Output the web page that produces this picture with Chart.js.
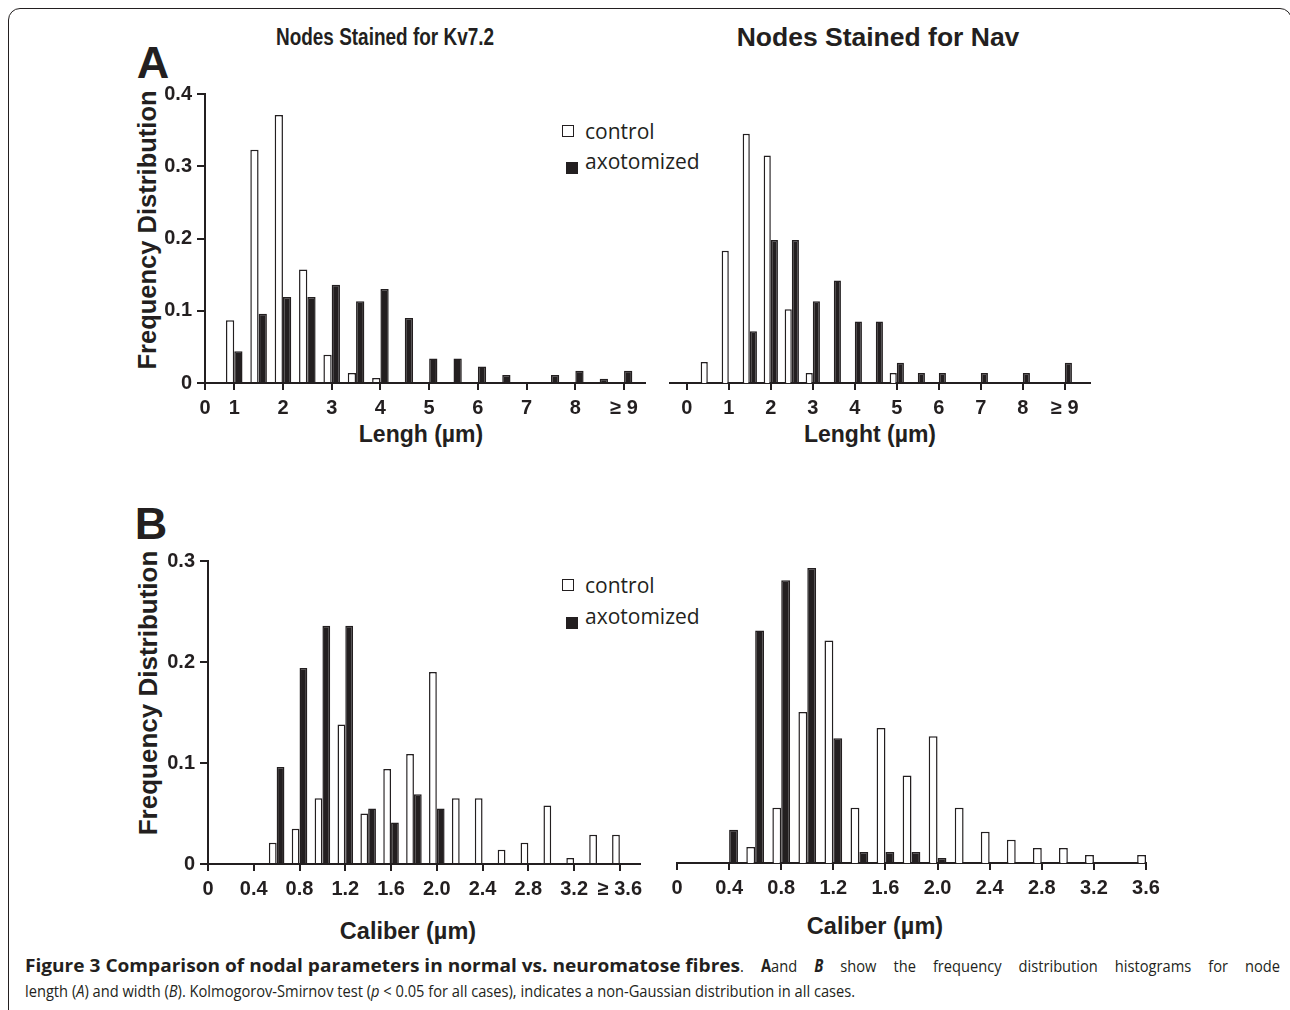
<!DOCTYPE html>
<html>
<head>
<meta charset="utf-8">
<script src="https://cdn.jsdelivr.net/npm/chart.js@4.4.1/dist/chart.umd.min.js"></script>
<style>
  body { margin: 0; background: #fff; width: 1290px; height: 1010px; overflow: hidden; position: relative;
         font-family: Arial, 'Liberation Sans', sans-serif; color: #231f20; }
  .frame { position: absolute; left: 8px; top: 8px; width: 1284px; height: 1100px; box-sizing: border-box;
           border: 1.5px solid #231f20; border-radius: 12px 12px 0 0; }
  .t { position: absolute; white-space: nowrap; font-weight: bold; transform: translate(-50%, -50%); line-height: 1; }
  .rot { transform: translate(-50%, -50%) rotate(-90deg); }
  canvas { position: absolute; }
  .leg { position: absolute; font-family: 'Open Sans', sans-serif; font-size: 21px; line-height: 1; white-space: nowrap; transform: translateY(-50%); }
  .sq { position: absolute; box-sizing: border-box; border: 1.3px solid #231f20; }
  .cap { position: absolute; left: 25px; font-family: 'Open Sans', sans-serif; font-size: 17px; line-height: 1;
         white-space: nowrap; transform-origin: left center; }
</style>
</head>
<body>
<div class="frame"></div>

<div class="t" style="left:385px; top:37px; font-size:24px; transform: translate(-50%,-50%) scaleX(0.79)">Nodes Stained for Kv7.2</div>
<div class="t" style="left:878px; top:37px; font-size:26.5px">Nodes Stained for Nav</div>
<div class="t" style="left:153px; top:62px; font-size:45px">A</div>
<div class="t" style="left:151px; top:523px; font-size:45px">B</div>
<div class="t rot" style="left:148px; top:230px; font-size:25.5px">Frequency Distribution</div>
<div class="t rot" style="left:148px; top:693px; font-size:26px">Frequency Distribution</div>
<div class="t" style="left:421px; top:434px; font-size:23px">Lengh (µm)</div>
<div class="t" style="left:870px; top:434px; font-size:23px">Lenght (µm)</div>
<div class="t" style="left:408px; top:932px; font-size:23.5px">Caliber (µm)</div>
<div class="t" style="left:875px; top:927px; font-size:23.5px">Caliber (µm)</div>

<div class="sq" style="left:562px; top:125px; width:12px; height:12px; background:#fff"></div>
<div class="leg" style="left:585px; top:131px">control</div>
<div class="sq" style="left:566px; top:162px; width:12px; height:12px; background:#231f20"></div>
<div class="leg" style="left:585px; top:161px">axotomized</div>
<div class="sq" style="left:562px; top:579px; width:12px; height:12px; background:#fff"></div>
<div class="leg" style="left:585px; top:585px">control</div>
<div class="sq" style="left:566px; top:617px; width:12px; height:12px; background:#231f20"></div>
<div class="leg" style="left:585px; top:616px">axotomized</div>

<div class="cap" id="cap1a" style="top:957px"><b>Figure 3 Comparison of nodal parameters in normal vs. neuromatose fibres</b></div>
<div class="cap" id="cap1b" style="top:957px">. <b>A</b>and <b><i>B</i></b> show the frequency distribution histograms for node</div>
<div class="cap" id="cap2" style="top:982px">length (<i>A</i>) and width (<i>B</i>). Kolmogorov-Smirnov test (<i>p</i> &lt; 0.05 for all cases), indicates a non-Gaussian distribution in all cases.</div>

<canvas id="lenKv"></canvas>
<canvas id="lenNav"></canvas>
<canvas id="calKv"></canvas>
<canvas id="calNav"></canvas>

<script>
// ---- Panel A: node length, 0.5 µm bins ----
const lenBinsKv = [1, 1.5, 2, 2.5, 3, 3.5, 4, 4.5, 5, 5.5, 6, 6.5, 7, 7.5, 8, 8.5, 9]
const kvLenControl = [0.087, 0.323, 0.371, 0.157, 0.039, 0.014, 0.007, 0, 0, 0, 0, 0, 0, 0, 0, 0, 0]
const kvLenAxotomized = [0.044, 0.096, 0.119, 0.119, 0.136, 0.113, 0.130, 0.090, 0.034, 0.034, 0.023, 0.011, 0, 0.011, 0.017, 0.006, 0.017]

const lenBinsNav = [0.5, 1, 1.5, 2, 2.5, 3, 3.5, 4, 4.5, 5, 5.5, 6, 6.5, 7, 7.5, 8, 8.5, 9]
const navLenControl = [0.029, 0.183, 0.345, 0.315, 0.102, 0.014, 0, 0, 0, 0.014, 0, 0, 0, 0, 0, 0, 0, 0]
const navLenAxotomized = [0, 0, 0.0715, 0.198, 0.198, 0.113, 0.142, 0.085, 0.085, 0.028, 0.014, 0.014, 0, 0.014, 0, 0.014, 0, 0.028]

const lenTicks = [0, 1, 2, 3, 4, 5, 6, 7, 8, 9]
const lenTickLabels = ['0', '1', '2', '3', '4', '5', '6', '7', '8', '≥ 9']

// ---- Panel B: node caliber, 0.2 µm bins ----
const calBins = [0.4, 0.6, 0.8, 1.0, 1.2, 1.4, 1.6, 1.8, 2.0, 2.2, 2.4, 2.6, 2.8, 3.0, 3.2, 3.4, 3.6]
const kvCalControl = [0, 0.021, 0.035, 0.065, 0.138, 0.050, 0.094, 0.109, 0.190, 0.065, 0.065, 0.014, 0.021, 0.058, 0.006, 0.029, 0.029]
const kvCalAxotomized = [0, 0.096, 0.194, 0.236, 0.236, 0.055, 0.041, 0.069, 0.055, 0, 0, 0, 0, 0, 0, 0, 0]
const navCalControl = [0, 0.016, 0.055, 0.150, 0.221, 0.055, 0.134, 0.087, 0.126, 0.055, 0.031, 0.023, 0.015, 0.015, 0.008, 0, 0.008]
const navCalAxotomized = [0.033, 0.231, 0.281, 0.293, 0.124, 0.011, 0.011, 0.011, 0.005, 0, 0, 0, 0, 0, 0, 0, 0]

const calTicks = [0, 0.4, 0.8, 1.2, 1.6, 2.0, 2.4, 2.8, 3.2, 3.6]
const calTickLabelsKv = ['0', '0.4', '0.8', '1.2', '1.6', '2.0', '2.4', '2.8', '3.2', '≥ 3.6']
const calTickLabelsNav = ['0', '0.4', '0.8', '1.2', '1.6', '2.0', '2.4', '2.8', '3.2', '3.6']

const freqTicksA = [0, 0.1, 0.2, 0.3, 0.4]
const freqTicksB = [0, 0.1, 0.2, 0.3]
const freqLabelsA = ['0', '0.1', '0.2', '0.3', '0.4']
const freqLabelsB = ['0', '0.1', '0.2', '0.3']

const INK = '#231f20'
const TICK_FONT = { family: "Arial, 'Liberation Sans', sans-serif", size: 20, weight: 'bold' }

function histogram(id, p) {
  const canvas = document.getElementById(id)
  const a = p.area
  const yW = p.showY ? 60 : 0
  const padL = p.showY ? 0 : 20
  const padT = 24, padR = 30, xH = 46
  canvas.width = (a.r - a.l) + yW + padL + padR
  canvas.height = (a.b - a.t) + padT + xH
  canvas.style.left = (a.l - yW - padL) + 'px'
  canvas.style.top = (a.t - padT) + 'px'

  const toPts = vals => p.bins.map((x, i) => ({ x, y: vals[i] > 0 ? vals[i] : null }))
  const xTickVals = p.xTicks.map(v => Math.max(v, p.xMin))

  return new Chart(canvas, {
    type: 'bar',
    data: {
      datasets: [
        { label: 'control', data: toPts(p.control), backgroundColor: '#fff', borderColor: INK, borderWidth: 1.5 },
        { label: 'axotomized', data: toPts(p.axotomized), backgroundColor: INK, borderColor: INK, borderWidth: 1.5 }
      ]
    },
    options: {
      responsive: false,
      animation: false,
      events: [],
      layout: { padding: { left: padL, top: padT, right: padR, bottom: 0 } },
      datasets: { bar: { categoryPercentage: 0.68, barPercentage: 1 } },
      plugins: { legend: { display: false }, tooltip: { enabled: false } },
      scales: {
        x: {
          type: 'linear',
          min: p.xMin,
          max: p.xMax,
          offset: false,
          afterBuildTicks: s => { s.ticks = xTickVals.map(v => ({ value: v })) },
          afterFit: s => { s.height = xH },
          ticks: {
            autoSkip: false, maxRotation: 0, color: INK, font: TICK_FONT, padding: 6,
            callback: (v, i) => p.xLabels[i]
          },
          grid: { offset: false, drawOnChartArea: false, drawTicks: true, tickLength: 7, color: INK, lineWidth: 2 },
          border: { display: true, color: INK, width: 2 }
        },
        y: {
          display: p.showY,
          min: 0,
          max: p.yTicks[p.yTicks.length - 1],
          afterBuildTicks: s => { s.ticks = p.yTicks.map(v => ({ value: v })) },
          afterFit: s => { s.width = yW },
          ticks: { color: INK, font: TICK_FONT, padding: 5, callback: (v, i) => p.yLabels[i] },
          grid: { drawOnChartArea: false, drawTicks: true, tickLength: 8, color: INK, lineWidth: 2 },
          border: { display: true, color: INK, width: 2 }
        }
      }
    }
  })
}

histogram('lenKv', {
  area: { l: 205, r: 645, t: 94, b: 383 }, showY: true,
  bins: lenBinsKv, control: kvLenControl, axotomized: kvLenAxotomized,
  xMin: 0.4, xMax: 9.43, xTicks: lenTicks, xLabels: lenTickLabels,
  yTicks: freqTicksA, yLabels: freqLabelsA
})
histogram('lenNav', {
  area: { l: 670, r: 1090, t: 94, b: 383 }, showY: false,
  bins: lenBinsNav, control: navLenControl, axotomized: navLenAxotomized,
  xMin: -0.4, xMax: 9.6, xTicks: lenTicks, xLabels: lenTickLabels,
  yTicks: freqTicksA, yLabels: freqLabelsA
})
histogram('calKv', {
  area: { l: 208, r: 640, t: 561, b: 864 }, showY: true,
  bins: calBins, control: kvCalControl, axotomized: kvCalAxotomized,
  xMin: 0, xMax: 3.776, xTicks: calTicks, xLabels: calTickLabelsKv,
  yTicks: freqTicksB, yLabels: freqLabelsB
})
histogram('calNav', {
  area: { l: 677, r: 1146, t: 561, b: 863 }, showY: false,
  bins: calBins, control: navCalControl, axotomized: navCalAxotomized,
  xMin: 0, xMax: 3.6, xTicks: calTicks, xLabels: calTickLabelsNav,
  yTicks: freqTicksB, yLabels: freqLabelsB
})

// squeeze the caption to the condensed face of the original
const cap1a = document.getElementById('cap1a')
const cap1b = document.getElementById('cap1b')
const cap2 = document.getElementById('cap2')
const k = 830 / cap2.offsetWidth
cap2.style.transform = `scaleX(${k})`
cap1a.style.transform = `scaleX(${715 / cap1a.offsetWidth})`
cap1b.style.left = '740px'
cap1b.style.width = (540 / k) + 'px'
cap1b.style.whiteSpace = 'normal'
cap1b.style.textAlign = 'justify'
cap1b.style.textAlignLast = 'justify'
cap1b.style.transform = `scaleX(${k})`
</script>
</body>
</html>
